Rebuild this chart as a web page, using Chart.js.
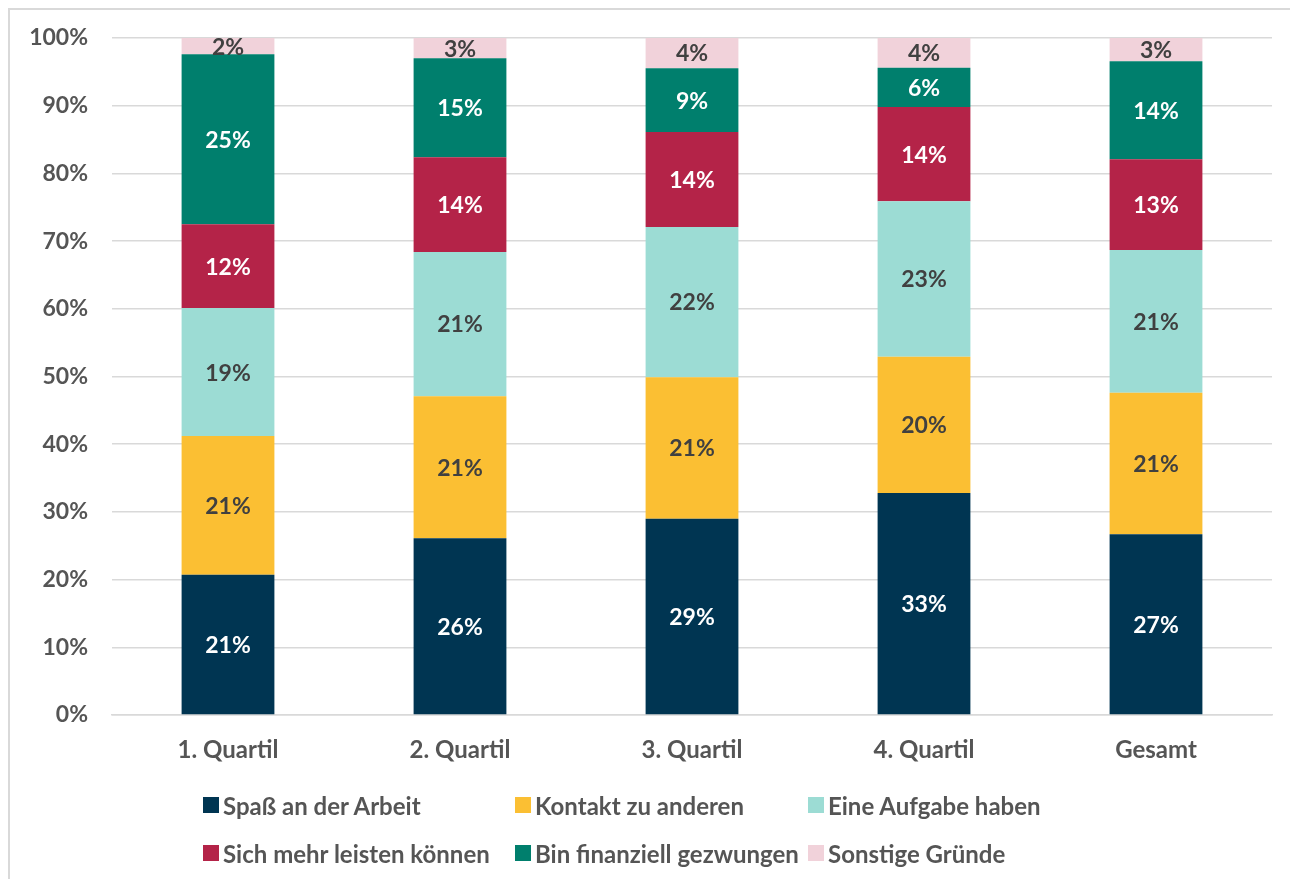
<!DOCTYPE html>
<html>
<head>
<meta charset="utf-8">
<script src="https://cdn.jsdelivr.net/npm/chart.js@4/dist/chart.umd.min.js"></script>
<style>
  body { margin: 0; background: #fff; font-family: Lato, sans-serif; }
  #wrap { position: relative; width: 1290px; height: 879px; overflow: hidden; }
  #frame { position: absolute; left: 8px; top: 8px; right: -5px; bottom: -5px; border-left: 2px solid #d9d9d9; border-top: 2px solid #d9d9d9; }
  #chart { position: absolute; left: 0; top: 0; }
  #legend { position: absolute; left: 203px; top: 781px; display: grid; grid-template-columns: 312px 293px auto; grid-auto-rows: 48px; }
  .item { display: flex; align-items: center; font-size: 24px; font-weight: bold; color: #555; white-space: nowrap; }
  .box { width: 16px; height: 16px; margin-right: 4px; flex: none; }
</style>
</head>
<body>
<div id="wrap">
  <div id="frame"></div>
  <canvas id="chart" width="1290" height="879"></canvas>
  <div id="legend"></div>
</div>
<script>
// categories and series (percent shares)
const categories = ['1. Quartil', '2. Quartil', '3. Quartil', '4. Quartil', 'Gesamt'];
const seriesNames = ['Spaß an der Arbeit', 'Kontakt zu anderen', 'Eine Aufgabe haben',
                     'Sich mehr leisten können', 'Bin finanziell gezwungen', 'Sonstige Gründe'];
const spass     = [20.7, 26.1, 29.0, 32.8, 26.7];
const kontakt   = [20.5, 21.0, 20.9, 20.1, 20.9];
const aufgabe   = [18.9, 21.3, 22.2, 23.0, 21.1];
const leisten   = [12.4, 14.0, 14.0, 13.9, 13.4];
const gezwungen = [25.1, 14.6, 9.45, 5.8, 14.45];
const sonstige  = [2.4, 3.0, 4.45, 4.4, 3.45];

const colors = ['#003552', '#fbbf33', '#9cdcd4', '#b42348', '#007f6d', '#f1d2da'];
const labelColors = ['#fff', '#404040', '#404040', '#fff', '#fff', '#404040'];
const values = [spass, kontakt, aufgabe, leisten, gezwungen, sonstige];

const datasets = seriesNames.map((name, i) => ({
    label: name,
    data: values[i],
    backgroundColor: colors[i],
    barPercentage: 0.4,
    categoryPercentage: 1.0
}));

// draw the value labels inside each segment
const segmentLabels = {
    id: 'segmentLabels',
    afterDatasetsDraw(chart) {
        const ctx = chart.ctx;
        ctx.save();
        ctx.font = 'bold 23px Lato';
        ctx.textAlign = 'center';
        ctx.textBaseline = 'middle';
        chart.data.datasets.forEach((ds, i) => {
            const meta = chart.getDatasetMeta(i);
            meta.data.forEach((bar, j) => {
                ctx.fillStyle = labelColors[i];
                const y = (bar.y + bar.base) / 2;
                ctx.fillText(Math.round(ds.data[j]) + '%', bar.x, y + 1);
            });
        });
        ctx.restore();
    }
};

new Chart(document.getElementById('chart'), {
    type: 'bar',
    data: { labels: categories, datasets: datasets },
    options: {
        responsive: false,
        animation: false,
        layout: { padding: { top: 38, right: 18, bottom: 0, left: 0 } },
        plugins: {
            legend: { display: false },
            tooltip: { enabled: false }
        },
        scales: {
            x: {
                stacked: true,
                grid: { display: false },
                border: { color: '#d9d9d9', width: 1.5 },
                ticks: { color: '#555', font: { family: 'Lato', size: 24, weight: 'bold' }, padding: 13 },
                afterFit(scale) { scale.height = 164; }
            },
            y: {
                stacked: true,
                min: 0,
                max: 100,
                ticks: {
                    stepSize: 10,
                    color: '#555',
                    padding: 24,
                    font: { family: 'Lato', size: 23, weight: 'bold' },
                    callback: v => v + '%'
                },
                grid: { color: '#d9d9d9', lineWidth: 1.5, drawTicks: false },
                border: { display: false },
                afterFit(scale) { scale.width = 112; }
            }
        }
    },
    plugins: [segmentLabels]
});

// legend laid out as a 3-column grid
const legend = document.getElementById('legend');
seriesNames.forEach((name, i) => {
    const item = document.createElement('div');
    item.className = 'item';
    item.innerHTML = '<span class="box" style="background:' + colors[i] + '"></span>' + name;
    legend.appendChild(item);
});
</script>
</body>
</html>
